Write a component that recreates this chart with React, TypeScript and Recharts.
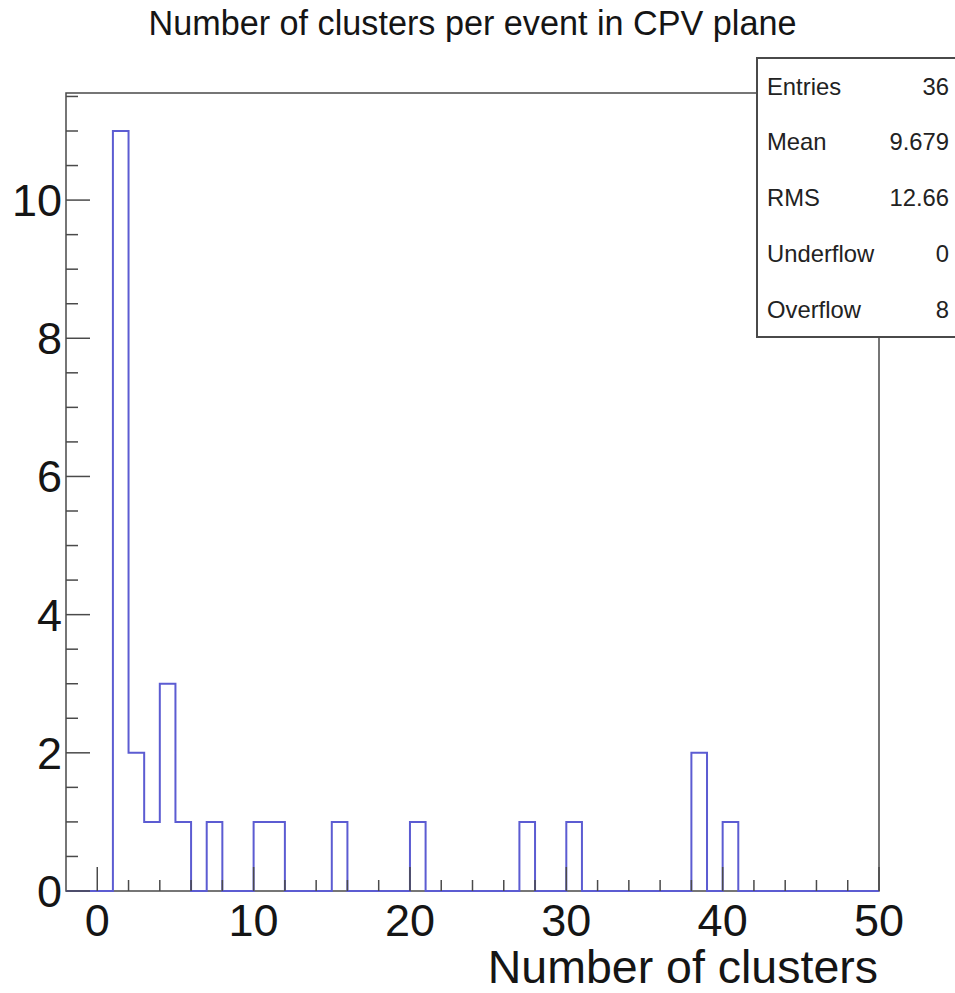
import React from "react";
import {
  ComposedChart,
  Line,
  XAxis,
  YAxis,
  ReferenceArea,
} from "recharts";

// histogram: 52 bins of width 1 from -2 to 50
const X_MIN = -2;
const X_MAX = 50;
const Y_MAX = 11.55;

const counts = [
  0, 0, 0, 11, 2, 1, 3, 1, 0, 1, // -2 .. 7
  0, 0, 1, 1, 0, 0, 0, 1, 0, 0, // 8 .. 17
  0, 0, 1, 0, 0, 0, 0, 0, 0, 1, // 18 .. 27
  0, 0, 1, 0, 0, 0, 0, 0, 0, 0, // 28 .. 37
  2, 0, 1, 0, 0, 0, 0, 0, 0, 0, // 38 .. 47
  0, 0,                         // 48 .. 49
];

const xTicks = [0, 2, 4, 6, 8, 10, 12, 14, 16, 18, 20, 22, 24, 26, 28, 30, 32, 34, 36, 38, 40, 42, 44, 46, 48, 50];
const yTicks = [0, 0.5, 1, 1.5, 2, 2.5, 3, 3.5, 4, 4.5, 5, 5.5, 6, 6.5, 7, 7.5, 8, 8.5, 9, 9.5, 10, 10.5, 11, 11.5];

const statLabels = ["Entries", "Mean", "RMS", "Underflow", "Overflow"];
const statValues = ["36", "9.679", "12.66", "0", "8"];

const TITLE = "Number of clusters per event in CPV plane";
const X_TITLE = "Number of clusters";

const FONT = "'Liberation Sans', Arial, Helvetica, sans-serif";
const FRAME = "#4a4a4a";
const HIST = "#5c5cd2";
const TEXT = "#151515";

const histData = counts
  .map((c, i) => ({ x: X_MIN + i, count: c }))
  .concat([{ x: X_MAX, count: 0 }]);

function XTick(props: any) {
  const { x, y, payload } = props;
  const major = payload.value % 10 === 0;
  return (
    <g>
      <line x1={x} y1={y} x2={x} y2={y - (major ? 24 : 11)} stroke={FRAME} strokeWidth={1.5} />
      {major && (
        <text x={x} y={y + 45} textAnchor="middle" fontSize={45} fontFamily={FONT} fill={TEXT}>
          {payload.value}
        </text>
      )}
    </g>
  );
}

function YTick(props: any) {
  const { x, y, payload } = props;
  const major = payload.value % 2 === 0;
  return (
    <g>
      <line x1={x} y1={y} x2={x + (major ? 24 : 12)} y2={y} stroke={FRAME} strokeWidth={1.5} />
      {major && (
        <text x={x - 4} y={y + 16} textAnchor="end" fontSize={45} fontFamily={FONT} fill={TEXT}>
          {payload.value}
        </text>
      )}
    </g>
  );
}

export default function App() {
  return (
    <div style={{ position: "absolute", left: 0, top: 0, width: 955, height: 993, overflow: "hidden", background: "#fff" }}>
      <ComposedChart
        width={955}
        height={993}
        data={histData}
        margin={{ top: 93, right: 76, bottom: 42, left: 6 }}
      >
        <ReferenceArea
          x1={X_MIN}
          x2={X_MAX}
          y1={0}
          y2={Y_MAX}
          fill="none"
          stroke={FRAME}
          strokeWidth={1.5}
          fillOpacity={0}
          strokeOpacity={1}
        />
        <Line
          type="stepAfter"
          dataKey="count"
          stroke={HIST}
          strokeWidth={2}
          dot={false}
          activeDot={false}
          isAnimationActive={false}
        />
        <XAxis
          type="number"
          dataKey="x"
          domain={[X_MIN, X_MAX]}
          ticks={xTicks}
          interval={0}
          tickSize={0}
          tickMargin={0}
          axisLine={false}
          tickLine={false}
          tick={<XTick />}
          height={60}
        />
        <YAxis
          type="number"
          domain={[0, Y_MAX]}
          ticks={yTicks}
          interval={0}
          tickSize={0}
          tickMargin={0}
          axisLine={false}
          tickLine={false}
          tick={<YTick />}
          width={60}
        />
      </ComposedChart>
      <svg
        width={955}
        height={993}
        style={{ position: "absolute", left: 0, top: 0, pointerEvents: "none" }}
      >
        <text x={472.5} y={35} textAnchor="middle" fontSize={34.2} fontFamily={FONT} fill={TEXT}>
          {TITLE}
        </text>
        <text x={878} y={983} textAnchor="end" fontSize={46.5} fontFamily={FONT} fill={TEXT}>
          {X_TITLE}
        </text>
        <rect x={757} y={58} width={210} height={279} fill="#fff" stroke={FRAME} strokeWidth={2} />
        {statLabels.map((s, i) => (
          <g key={s}>
            <text x={767} y={94.5 + i * 55.9} fontSize={23.8} fontFamily={FONT} fill="#222">
              {s}
            </text>
            <text x={949} y={94.5 + i * 55.9} textAnchor="end" fontSize={23.8} fontFamily={FONT} fill="#222">
              {statValues[i]}
            </text>
          </g>
        ))}
      </svg>
    </div>
  );
}
